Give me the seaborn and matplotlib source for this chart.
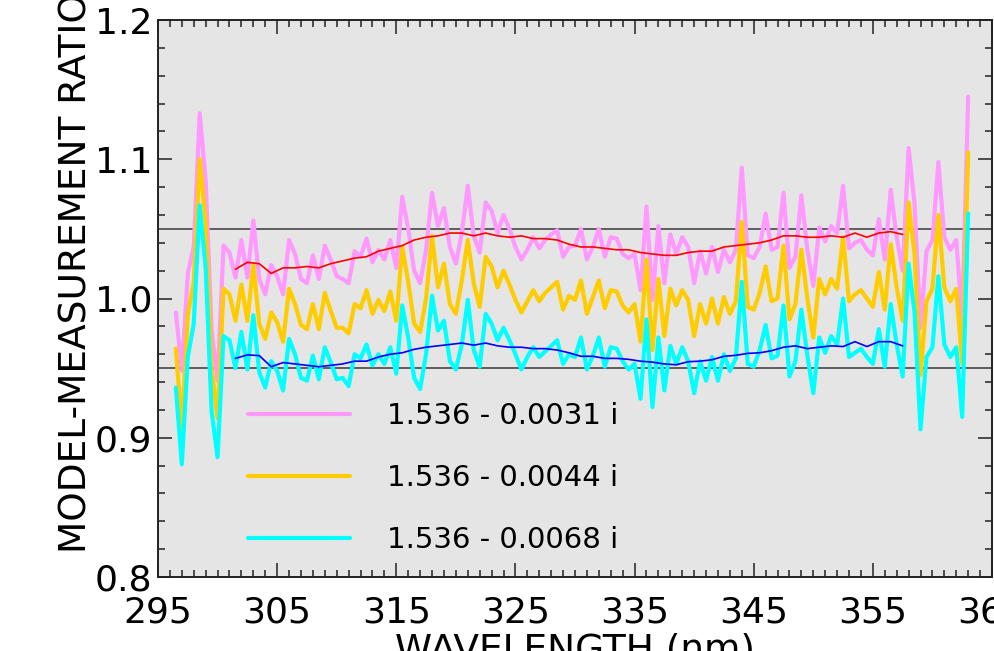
import numpy as np
import pandas as pd
import matplotlib
matplotlib.use("Agg")
import matplotlib.pyplot as plt
import seaborn as sns
from matplotlib.ticker import FixedLocator, MultipleLocator, FormatStrFormatter

# ---------------- data ----------------
WAVELENGTH = np.arange(296.5, 363.01, 0.5)  # 0.5 nm grid, 134 points

PINK = [  # 1.536 - 0.0031 i
    0.990, 0.948, 1.018, 1.037, 1.133, 1.085, 0.977, 0.941, 1.038, 1.033,
    1.015, 1.042, 1.015, 1.056, 1.014, 1.003, 1.024, 1.016, 1.003, 1.042,
    1.032, 1.014, 1.011, 1.031, 1.014, 1.038, 1.028, 1.016, 1.014, 1.011,
    1.034, 1.030, 1.043, 1.026, 1.035, 1.028, 1.042, 1.022, 1.073, 1.050,
    1.020, 1.011, 1.035, 1.076, 1.052, 1.065, 1.037, 1.025, 1.047, 1.081,
    1.045, 1.033, 1.069, 1.063, 1.047, 1.060, 1.050, 1.037, 1.028, 1.035,
    1.044, 1.036, 1.042, 1.046, 1.049, 1.030, 1.037, 1.038, 1.050, 1.028,
    1.037, 1.050, 1.030, 1.044, 1.043, 1.032, 1.029, 1.032, 1.006, 1.066,
    0.999, 1.052, 1.011, 1.046, 1.032, 1.044, 1.037, 1.011, 1.034, 1.018,
    1.037, 1.019, 1.035, 1.026, 1.035, 1.094, 1.031, 1.029, 1.037, 1.061,
    1.035, 1.037, 1.076, 1.022, 1.030, 1.074, 1.035, 1.009, 1.051, 1.041,
    1.052, 1.047, 1.081, 1.036, 1.040, 1.042, 1.035, 1.031, 1.057, 1.028,
    1.078, 1.044, 1.020, 1.108, 1.068, 0.979, 1.034, 1.042, 1.098, 1.044,
    1.035, 1.042, 0.985, 1.145,
]

GOLD = [  # 1.536 - 0.0044 i
    0.964, 0.907, 0.988, 1.012, 1.100, 1.055, 0.950, 0.914, 1.007, 1.003,
    0.984, 1.010, 0.984, 1.024, 0.982, 0.971, 0.990, 0.983, 0.969, 1.007,
    0.996, 0.981, 0.978, 0.996, 0.978, 1.004, 0.991, 0.979, 0.979, 0.975,
    0.996, 0.993, 1.006, 0.989, 0.999, 0.991, 1.005, 0.984, 1.037, 1.012,
    0.982, 0.976, 1.000, 1.045, 1.008, 1.025, 0.996, 0.989, 1.013, 1.042,
    1.011, 0.994, 1.030, 1.023, 1.008, 1.020, 1.010, 0.999, 0.990, 0.998,
    1.006, 0.998, 1.004, 1.008, 1.012, 0.992, 1.002, 0.999, 1.013, 0.989,
    1.001, 1.013, 0.993, 1.006, 1.005, 0.995, 0.990, 0.996, 0.969, 1.028,
    0.963, 1.014, 0.973, 1.007, 0.995, 1.006, 0.999, 0.973, 0.996, 0.982,
    1.000, 0.982, 1.001, 0.989, 0.998, 1.055, 0.994, 0.992, 1.004, 1.023,
    0.998, 1.000, 1.038, 0.985, 0.996, 1.035, 1.000, 0.972, 1.014, 1.003,
    1.014, 1.007, 1.044, 0.998, 1.003, 1.006, 1.000, 0.994, 1.019, 0.992,
    1.039, 1.008, 0.984, 1.069, 1.032, 0.945, 0.998, 1.007, 1.060, 1.008,
    0.998, 1.007, 0.953, 1.105,
]

CYAN = [  # 1.536 - 0.0068 i
    0.936, 0.881, 0.958, 0.982, 1.067, 1.022, 0.919, 0.886, 0.973, 0.970,
    0.950, 0.976, 0.949, 0.988, 0.947, 0.936, 0.955, 0.948, 0.934, 0.971,
    0.960, 0.943, 0.941, 0.959, 0.942, 0.965, 0.954, 0.942, 0.943, 0.937,
    0.960, 0.957, 0.967, 0.952, 0.960, 0.953, 0.965, 0.946, 0.995, 0.972,
    0.943, 0.935, 0.960, 1.002, 0.977, 0.984, 0.955, 0.949, 0.967, 0.999,
    0.963, 0.951, 0.989, 0.982, 0.970, 0.979, 0.970, 0.960, 0.949, 0.958,
    0.965, 0.958, 0.962, 0.966, 0.970, 0.953, 0.960, 0.958, 0.972, 0.949,
    0.959, 0.972, 0.951, 0.965, 0.964, 0.955, 0.949, 0.953, 0.928, 0.985,
    0.922, 0.972, 0.934, 0.966, 0.953, 0.965, 0.955, 0.932, 0.955, 0.941,
    0.958, 0.941, 0.960, 0.948, 0.957, 1.012, 0.953, 0.951, 0.963, 0.981,
    0.957, 0.959, 0.995, 0.944, 0.955, 0.992, 0.959, 0.932, 0.972, 0.961,
    0.973, 0.967, 1.000, 0.958, 0.961, 0.964, 0.958, 0.953, 0.978, 0.951,
    0.996, 0.967, 0.944, 1.025, 0.990, 0.906, 0.958, 0.965, 1.016, 0.967,
    0.958, 0.965, 0.915, 1.061,
]

SMOOTH_WL = np.arange(301.5, 357.51, 1.0)  # 57 points

RED = [
    1.021, 1.026, 1.025, 1.018, 1.022, 1.022, 1.023, 1.022, 1.025, 1.027,
    1.029, 1.030, 1.034, 1.036, 1.038, 1.042, 1.044, 1.045, 1.047, 1.047,
    1.045, 1.047, 1.045, 1.044, 1.045, 1.043, 1.043, 1.042, 1.039, 1.037,
    1.037, 1.036, 1.035, 1.035, 1.033, 1.032, 1.031, 1.031, 1.033, 1.034,
    1.034, 1.037, 1.038, 1.039, 1.040, 1.042, 1.045, 1.045, 1.044, 1.044,
    1.045, 1.044, 1.047, 1.044, 1.047, 1.048, 1.046,
]

BLUE = [
    0.957, 0.9595, 0.959, 0.951, 0.954, 0.953, 0.952, 0.951, 0.952, 0.953,
    0.955, 0.955, 0.958, 0.960, 0.961, 0.9635, 0.965, 0.966, 0.967, 0.968,
    0.9665, 0.968, 0.966, 0.965, 0.965, 0.964, 0.964, 0.963, 0.961, 0.9585,
    0.9585, 0.957, 0.957, 0.9563, 0.955, 0.9543, 0.953, 0.9524, 0.9546, 0.955,
    0.956, 0.9585, 0.9592, 0.9606, 0.961, 0.9625, 0.965, 0.966, 0.964, 0.965,
    0.966, 0.9655, 0.969, 0.9655, 0.969, 0.969, 0.966,
]

LABELS = ["1.536 - 0.0031 i", "1.536 - 0.0044 i", "1.536 - 0.0068 i"]
XTICKS = [295, 305, 315, 325, 335, 345, 355, 365]
YTICKS = [0.8, 0.9, 1.0, 1.1, 1.2]
REF_LINES = [1.05, 0.95]

# ---------------- plot ----------------
sns.set_theme(style="ticks")
plt.rcParams["font.family"] = ["DejaVu Sans"]
plt.rcParams["text.color"] = "black"
plt.rcParams["axes.labelcolor"] = "black"
plt.rcParams["xtick.color"] = "black"
plt.rcParams["ytick.color"] = "black"

fig = plt.figure(figsize=(9.95, 6.51), dpi=100)
ax = fig.add_axes([158 / 995, 74 / 651, 834 / 995, 557 / 651])
ax.set_facecolor("#e5e5e5")

for yv in REF_LINES:
    ax.axhline(yv, color="#3a3a3a", lw=1.1, zorder=1)

noisy = pd.DataFrame({"wl": WAVELENGTH, "p": PINK, "g": GOLD, "c": CYAN})
for col, color, lab in zip(["p", "g", "c"], ["#ff99ff", "#ffcc00", "#00ffff"], LABELS):
    sns.lineplot(data=noisy, x="wl", y=col, color=color, lw=3.0, label=lab,
                 ax=ax, estimator=None, sort=False, zorder=2)

smooth = pd.DataFrame({"wl": SMOOTH_WL, "r": RED, "b": BLUE})
sns.lineplot(data=smooth, x="wl", y="r", color="#ff0000", lw=1.2, ax=ax,
             estimator=None, sort=False, zorder=3, legend=False)
sns.lineplot(data=smooth, x="wl", y="b", color="#0000ff", lw=1.2, ax=ax,
             estimator=None, sort=False, zorder=3, legend=False)

ax.set_xlim(295, 365)
ax.set_ylim(0.8, 1.2)
ax.xaxis.set_major_locator(FixedLocator(XTICKS))
ax.xaxis.set_minor_locator(MultipleLocator(1))
ax.yaxis.set_major_locator(FixedLocator(YTICKS))
ax.yaxis.set_minor_locator(MultipleLocator(0.02))
ax.yaxis.set_major_formatter(FormatStrFormatter("%.1f"))

ax.tick_params(which="both", direction="in", top=True, right=True,
               color="#222222", labelcolor="black", width=1.1)
ax.tick_params(which="major", length=10)
ax.tick_params(which="minor", length=5)
ax.tick_params(axis="x", which="major", labelsize=26, pad=13.5)
ax.tick_params(axis="y", which="major", labelsize=26, pad=4)

for sp in ax.spines.values():
    sp.set_color("#222222")
    sp.set_linewidth(1.4)

ax.set_xlabel("WAVELENGTH (nm)", fontsize=27, color="black")
ax.set_ylabel("MODEL-MEASUREMENT RATIO", fontsize=27, color="black")
ax.xaxis.set_label_coords(0.5, -0.1005)
ax.yaxis.set_label_coords(-0.0767, 0.545)

leg = ax.legend(loc="upper left", bbox_to_anchor=(0.108, 0.314), frameon=False,
                fontsize=21, handlelength=3.5, handletextpad=1.25,
                labelspacing=1.16, borderpad=0, borderaxespad=0)
for t in leg.get_texts():
    t.set_color("black")
for h in leg.get_lines():
    h.set_linewidth(3.0)

fig.savefig("out.png", dpi=100)
